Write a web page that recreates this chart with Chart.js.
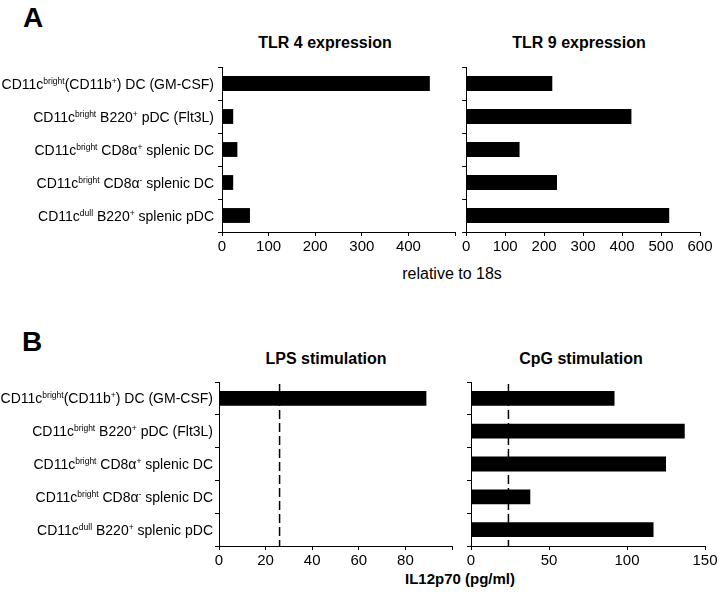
<!DOCTYPE html>
<html>
<head>
<meta charset="utf-8">
<script src="https://cdn.jsdelivr.net/npm/chart.js@4"></script>
<style>
  body { margin: 0; background: #fff; }
  #wrap { position: relative; width: 720px; height: 596px; background: #fff;
          font-family: 'Liberation Sans', Arial, sans-serif; color: #000; }
  canvas { position: absolute; }
  .t { position: absolute; white-space: nowrap; font-weight: bold; font-size: 16px;
       line-height: 16px; transform: translateX(-50%); }
  .panel { font-size: 28px; line-height: 28px; transform: none; }
</style>
</head>
<body>
<div id="wrap">
  <div class="t panel" style="left:23px;top:4px">A</div>
  <div class="t panel" style="left:22px;top:328px">B</div>
  <div class="t" style="left:325px;top:35px">TLR 4 expression</div>
  <div class="t" style="left:579px;top:35px">TLR 9 expression</div>
  <div class="t" style="left:452px;top:266px;font-weight:normal">relative to 18s</div>
  <div class="t" style="left:326px;top:351px">LPS stimulation</div>
  <div class="t" style="left:581px;top:351px">CpG stimulation</div>
  <div class="t" style="left:460px;top:571px;font-size:15px;line-height:15px">IL12p70 (pg/ml)</div>

  <canvas id="tlr4" width="460" height="200" style="left:0;top:60px"></canvas>
  <canvas id="tlr9" width="260" height="200" style="left:460px;top:60px"></canvas>
  <canvas id="lps" width="460" height="224" style="left:0;top:372px"></canvas>
  <canvas id="cpg" width="260" height="224" style="left:460px;top:372px"></canvas>
</div>

<script>
// cell types, top to bottom; ^{...} marks superscript text
const categories = [
  "CD11c^{bright}(CD11b^{+}) DC (GM-CSF)",
  "CD11c^{bright} B220^{+} pDC (Flt3L)",
  "CD11c^{bright} CD8α^{+} splenic DC",
  "CD11c^{bright} CD8α^{-} splenic DC",
  "CD11c^{dull} B220^{+} splenic pDC"
];

// A: expression relative to 18s
const tlr4 = [446, 24, 33, 24, 60];
const tlr9 = [221, 424, 137, 233, 521];

// B: IL12p70 (pg/ml)
const lps = [89, null, null, null, null];
const cpg = [92, 137, 125, 38, 117];
const lpsCutoff = 26;
const cpgCutoff = 24;

// axis ticks that carry a label
const tlr4Ticks = [0, 100, 200, 300, 400];
const tlr9Ticks = [0, 100, 200, 300, 400, 500, 600];
const lpsTicks = [0, 20, 40, 60, 80];
const cpgTicks = [0, 50, 100, 150];

const MAIN_FONT = "14px 'Liberation Sans', Arial, sans-serif";
const SUP_FONT = "8.5px 'Liberation Sans', Arial, sans-serif";
const tickFont = { family: "'Liberation Sans Narrow', 'Liberation Sans', Arial, sans-serif", size: 15 };

// draws the category names with superscripts left of the axis
const labelPlugin = {
  id: 'catLabels',
  afterDraw(chart, args, opts) {
    if (!opts.show) return;
    const ctx = chart.ctx;
    const yScale = chart.scales.y;
    ctx.save();
    ctx.fillStyle = '#000';
    ctx.textBaseline = 'alphabetic';
    ctx.textAlign = 'left';
    chart.data.labels.forEach((lab, i) => {
      const parts = lab.split(/\^\{([^}]*)\}/);
      let w = 0;
      parts.forEach((p, k) => {
        ctx.font = k % 2 ? SUP_FONT : MAIN_FONT;
        w += ctx.measureText(p).width;
      });
      let x = chart.chartArea.left - opts.gap - w;
      const base = yScale.getPixelForValue(i) + 5;
      parts.forEach((p, k) => {
        ctx.font = k % 2 ? SUP_FONT : MAIN_FONT;
        ctx.fillText(p, x, k % 2 ? base - 5 : base);
        x += ctx.measureText(p).width;
      });
    });
    ctx.restore();
  }
};

// dashed vertical line for the background level
const cutoffPlugin = {
  id: 'cutoff',
  afterDatasetsDraw(chart, args, opts) {
    if (opts.value == null) return;
    const ctx = chart.ctx;
    const a = chart.chartArea;
    const x = chart.scales.x.getPixelForValue(opts.value);
    ctx.save();
    ctx.strokeStyle = '#000';
    ctx.lineWidth = 1.5;
    ctx.setLineDash([9, 4]);
    ctx.beginPath();
    ctx.moveTo(x, a.top + 2);
    ctx.lineTo(x, a.bottom);
    ctx.stroke();
    ctx.restore();
  }
};

function makeChart(id, values, cfg) {
  return new Chart(document.getElementById(id), {
    type: 'bar',
    data: {
      labels: categories,
      datasets: [{
        data: values,
        backgroundColor: '#000',
        borderWidth: 0,
        barPercentage: 0.9,
        categoryPercentage: 0.5
      }]
    },
    options: {
      indexAxis: 'y',
      responsive: false,
      animation: false,
      layout: { padding: cfg.padding },
      plugins: {
        legend: { display: false },
        tooltip: { enabled: false },
        catLabels: { show: cfg.labels, gap: cfg.gap },
        cutoff: { value: cfg.cutoff }
      },
      scales: {
        x: {
          min: 0,
          max: cfg.max,
          ticks: {
            stepSize: cfg.step,
            color: '#000',
            font: tickFont,
            padding: 2,
            maxRotation: 0,
            autoSkip: false,
            callback: v => cfg.tickLabels.includes(v) ? String(v) : ''
          },
          grid: { drawOnChartArea: false, color: '#000', tickLength: 4 },
          border: { color: '#000' },
          afterFit: s => { s.height = cfg.xh; }
        },
        y: {
          ticks: { display: false },
          grid: { drawOnChartArea: false, color: '#000', tickLength: 4, offset: true },
          border: { color: '#000' },
          afterFit: s => { s.width = cfg.yw; }
        }
      }
    },
    plugins: [labelPlugin, cutoffPlugin]
  });
}

makeChart('tlr4', tlr4, {
  max: 500, step: 100, tickLabels: tlr4Ticks, labels: true, gap: 8,
  padding: { top: 7, right: 5, left: 0, bottom: 0 }, yw: 222, xh: 28
});
makeChart('tlr9', tlr9, {
  max: 600, step: 100, tickLabels: tlr9Ticks, labels: false, gap: 0,
  padding: { top: 7, right: 20, left: 0, bottom: 0 }, yw: 6, xh: 28
});
makeChart('lps', lps, {
  max: 100, step: 20, tickLabels: lpsTicks, labels: true, gap: 6, cutoff: lpsCutoff,
  padding: { top: 10, right: 8, left: 0, bottom: 0 }, yw: 219, xh: 50
});
makeChart('cpg', cpg, {
  max: 150, step: 50, tickLabels: cpgTicks, labels: false, gap: 0, cutoff: cpgCutoff,
  padding: { top: 10, right: 15, left: 0, bottom: 0 }, yw: 11, xh: 50
});
</script>
</body>
</html>
